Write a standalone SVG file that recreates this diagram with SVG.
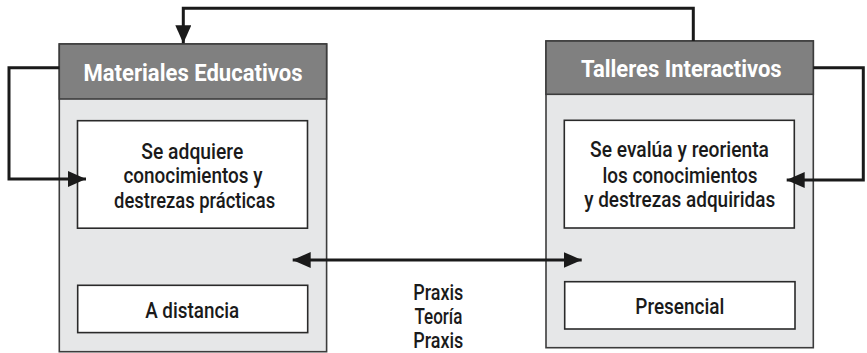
<svg xmlns="http://www.w3.org/2000/svg" width="867" height="353" viewBox="0 0 867 353">
<defs>
<style>
.outer{fill:#e6e7e8;stroke:#3c3c3c;stroke-width:1.6}
.head{fill:#808080;stroke:#3c3c3c;stroke-width:1.6}
.inner{fill:#ffffff;stroke:#2a2a2a;stroke-width:1.6}
.title{font-family:Roboto,"Liberation Sans",Arial,sans-serif;font-weight:bold;font-size:23px;fill:#ffffff;text-anchor:middle}
.txt{font-family:Roboto,"Liberation Sans",Arial,sans-serif;font-weight:500;font-size:22px;fill:#1a1a1a;text-anchor:middle}
.conn{fill:none;stroke:#1a1a1a;stroke-width:3}
</style>
<marker id="arr" viewBox="0 0 18 16" refX="18" refY="8" markerWidth="18" markerHeight="16" markerUnits="userSpaceOnUse" orient="auto-start-reverse">
<path d="M0,0 L18,8 L0,16 Z" fill="#1a1a1a"/>
</marker>
</defs>

<g id="node-materiales">
<rect class="outer" x="59.3" y="44" width="267.3" height="307.7"/>
<rect class="head" x="59.3" y="44" width="267.3" height="55"/>
<text class="title" x="193" y="81" textLength="219" lengthAdjust="spacingAndGlyphs">Materiales Educativos</text>
</g>
<g id="node-adquiere">
<rect class="inner" x="77.5" y="120.7" width="230" height="107.5"/>
<text class="txt" x="192.3" y="158.5" textLength="102" lengthAdjust="spacingAndGlyphs">Se adquiere</text>
<text class="txt" x="193" y="183" textLength="139" lengthAdjust="spacingAndGlyphs">conocimientos y</text>
<text class="txt" x="194.6" y="207.5" textLength="161" lengthAdjust="spacingAndGlyphs">destrezas prácticas</text>
</g>
<g id="node-distancia">
<rect class="inner" x="77.7" y="285.3" width="230" height="47.3"/>
<text class="txt" x="192.2" y="318.3" textLength="94" lengthAdjust="spacingAndGlyphs">A distancia</text>
</g>

<g id="node-talleres">
<rect class="outer" x="546" y="41" width="267.3" height="306.7"/>
<rect class="head" x="546" y="41" width="267.3" height="53.3"/>
<text class="title" x="681.3" y="77" textLength="200.7" lengthAdjust="spacingAndGlyphs">Talleres Interactivos</text>
</g>
<g id="node-evalua">
<rect class="inner" x="564.3" y="120.3" width="230" height="107.7"/>
<text class="txt" x="679.5" y="157.3" textLength="179" lengthAdjust="spacingAndGlyphs">Se evalúa y reorienta</text>
<text class="txt" x="680" y="182.5" textLength="155" lengthAdjust="spacingAndGlyphs">los conocimientos</text>
<text class="txt" x="679.7" y="207.3" textLength="191" lengthAdjust="spacingAndGlyphs">y destrezas adquiridas</text>
</g>
<g id="node-presencial">
<rect class="inner" x="564.7" y="281.7" width="230.3" height="47.3"/>
<text class="txt" x="679.8" y="314.3" textLength="89" lengthAdjust="spacingAndGlyphs">Presencial</text>
</g>

<g id="node-praxis">
<text class="txt" x="438.3" y="300" textLength="50" lengthAdjust="spacingAndGlyphs">Praxis</text>
<text class="txt" x="438.5" y="324" textLength="48" lengthAdjust="spacingAndGlyphs">Teoría</text>
<text class="txt" x="438.3" y="348" textLength="50" lengthAdjust="spacingAndGlyphs">Praxis</text>
</g>

<g id="connectors">
<path class="conn" d="M693.3,41 L693.3,8.3 L183.3,8.3 L183.3,43.3" marker-end="url(#arr)"/>
<path class="conn" d="M59.3,67.7 L9,67.7 L9,179 L86,179" marker-end="url(#arr)"/>
<path class="conn" d="M813.3,67.7 L863.3,67.7 L863.3,180 L786.7,180" marker-end="url(#arr)"/>
<path class="conn" d="M292.7,260 L581.7,260" marker-start="url(#arr)" marker-end="url(#arr)"/>
</g>
</svg>
